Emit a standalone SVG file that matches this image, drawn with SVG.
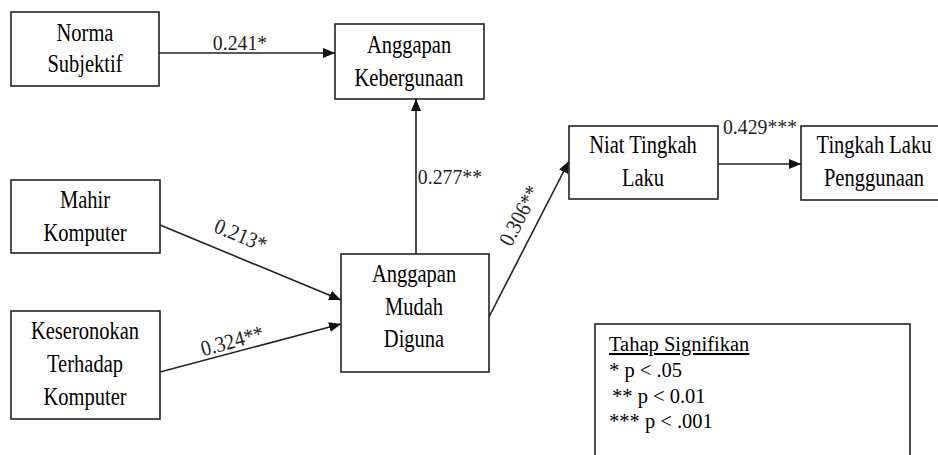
<svg xmlns="http://www.w3.org/2000/svg" width="938" height="455" viewBox="0 0 938 455">
<style>
.box{fill:#fff;stroke:#222;stroke-width:1.6}
text{font-family:'Liberation Serif','DejaVu Serif',serif}
.nt{font-size:25px;fill:#000;text-anchor:middle}
.el{font-size:22px;fill:#222;text-anchor:middle}
.lg{font-size:20.5px;fill:#000}
.cn{stroke:#222;stroke-width:1.6;fill:none;marker-end:url(#ah)}
</style>
<defs>
<marker id="ah" markerUnits="userSpaceOnUse" markerWidth="12" markerHeight="10" refX="12" refY="5" orient="auto">
<path d="M0,0 L12,5 L0,10 z" fill="#111"/>
</marker>
</defs>
<rect width="938" height="455" fill="#fff"/>
<g id="connectors">
<line class="cn" x1="159" y1="53" x2="335" y2="53"/>
<line class="cn" x1="416" y1="254" x2="416" y2="99"/>
<line class="cn" x1="160" y1="225" x2="341" y2="300"/>
<line class="cn" x1="160" y1="372" x2="341" y2="324"/>
<line class="cn" x1="489" y1="317" x2="569" y2="161"/>
<line class="cn" x1="718" y1="164" x2="801" y2="164"/>
<text class="el" transform="translate(240,50) scale(0.9,1)">0.241*</text>
<text class="el" transform="translate(450,184) scale(0.9,1)">0.277**</text>
<text class="el" transform="translate(238,242) rotate(22.5) scale(0.9,1)">0.213*</text>
<text class="el" transform="translate(234,348) rotate(-14.9) scale(0.9,1)">0.324**</text>
<text class="el" transform="translate(526,219) rotate(-62.7) scale(0.9,1)">0.306**</text>
<text class="el" transform="translate(760,134) scale(0.9,1)">0.429***</text>
</g>
<g id="norma">
<rect class="box" x="11" y="12" width="148" height="74"/>
<text class="nt" transform="translate(85,41) scale(0.82,1)">Norma</text>
<text class="nt" transform="translate(85,72) scale(0.82,1)">Subjektif</text>
</g>
<g id="kebergunaan">
<rect class="box" x="335" y="24" width="149" height="75"/>
<text class="nt" transform="translate(409,53) scale(0.82,1)">Anggapan</text>
<text class="nt" transform="translate(409,86) scale(0.82,1)">Kebergunaan</text>
</g>
<g id="mahir">
<rect class="box" x="11" y="180" width="149" height="73"/>
<text class="nt" transform="translate(85,208) scale(0.82,1)">Mahir</text>
<text class="nt" transform="translate(85,241) scale(0.82,1)">Komputer</text>
</g>
<g id="keseronokan">
<rect class="box" x="11" y="311" width="149" height="108"/>
<text class="nt" transform="translate(85,339) scale(0.82,1)">Keseronokan</text>
<text class="nt" transform="translate(85,372) scale(0.82,1)">Terhadap</text>
<text class="nt" transform="translate(85,405) scale(0.82,1)">Komputer</text>
</g>
<g id="mudah">
<rect class="box" x="341" y="254" width="148" height="118"/>
<text class="nt" transform="translate(414,282) scale(0.82,1)">Anggapan</text>
<text class="nt" transform="translate(414,315) scale(0.82,1)">Mudah</text>
<text class="nt" transform="translate(414,347) scale(0.82,1)">Diguna</text>
</g>
<g id="niat">
<rect class="box" x="569" y="126" width="149" height="73"/>
<text class="nt" transform="translate(643,153) scale(0.82,1)">Niat Tingkah</text>
<text class="nt" transform="translate(643,186) scale(0.82,1)">Laku</text>
</g>
<g id="tingkah">
<rect class="box" x="801" y="126" width="148" height="74"/>
<text class="nt" transform="translate(874,153) scale(0.82,1)">Tingkah Laku</text>
<text class="nt" transform="translate(874,186) scale(0.82,1)">Penggunaan</text>
</g>
<g id="legend">
<rect class="box" x="595" y="324" width="315" height="140"/>
<text class="lg" x="609" y="351" text-decoration="underline">Tahap Signifikan</text>
<text class="lg" x="609" y="377">* p &lt; .05</text>
<text class="lg" x="612" y="403">** p &lt; 0.01</text>
<text class="lg" x="609" y="428">*** p &lt; .001</text>
</g>
</svg>
